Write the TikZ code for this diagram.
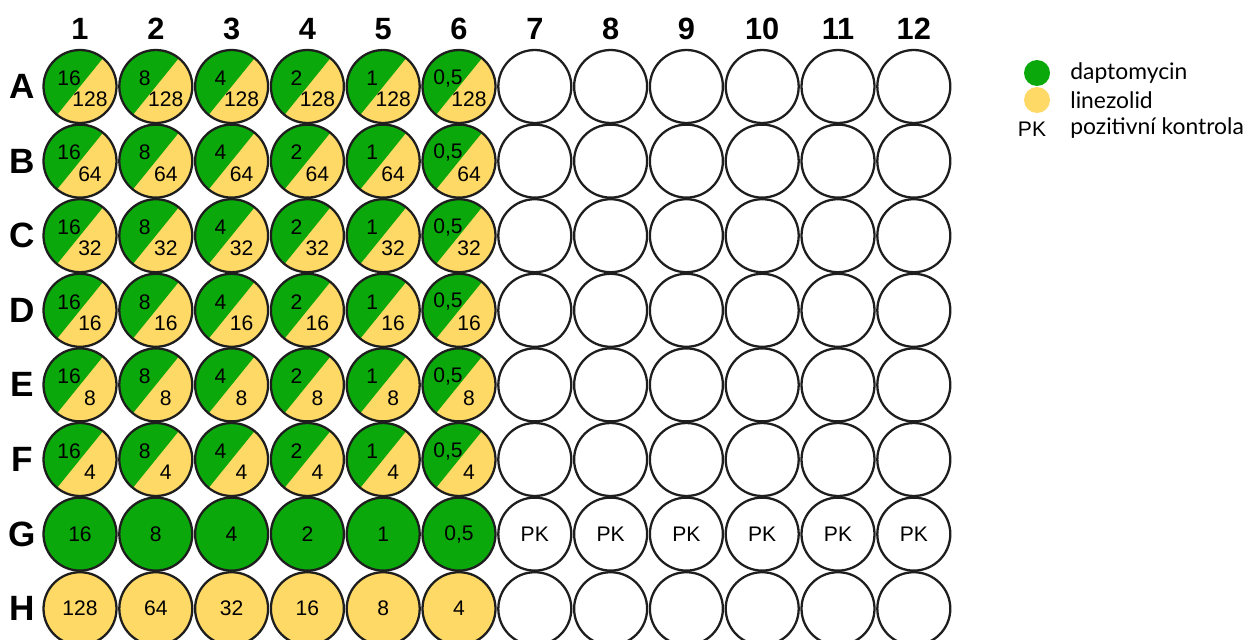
\documentclass[tikz,border=0pt]{standalone}
\usepackage{fontspec}
\setmainfont{Liberation Sans}
\newfontfamily\legendfont{Lato}
\usepackage{xcolor}
\usepackage{tikz}

\definecolor{dapto}{RGB}{10,168,10}
\definecolor{linez}{RGB}{255,217,102}
\definecolor{rim}{RGB}{30,30,30}

\tikzset{
    well/.style={circle, draw=rim, line width=1.3pt, minimum size=1.46cm, inner sep=0pt},
    halfwell/.style={well, fill=linez,
        path picture={\fill[dapto] ($(path picture bounding box.center)+(51:1.2cm)$)
            -- ($(path picture bounding box.center)+(141:1.7cm)$)
            -- ($(path picture bounding box.center)+(231:1.2cm)$) -- cycle;}},
    dose/.style={inner sep=0pt, font=\fontsize{12}{14}\selectfont},
    colhead/.style={font=\fontsize{17.5}{20}\selectfont\bfseries},
    rowhead/.style={font=\fontsize{20}{22}\selectfont\bfseries},
    legtext/.style={anchor=west, inner sep=0pt, font=\legendfont\fontsize{13}{15}\selectfont}
}
\usetikzlibrary{calc}

\begin{document}
\begin{tikzpicture}[x=0.02cm, y=-0.02cm]

    \useasboundingbox (0,0) rectangle (1250,639);

    % Column numbers
    \foreach \c in {1,...,12}
    {
        \node[colhead] (col-\c) at (4.2+75.8*\c, 29) {\c};
    }

    % Row letters
    \foreach \r [count=\i] in {A,B,C,D,E,F,G,H}
    {
        \node[rowhead] (row-\r) at (22, 11.9+74.6*\i) {\r};
    }

    % Combination wells (rows A-F, columns 1-6)
    \foreach \r/\lin [count=\i] in {A/128, B/64, C/32, D/16, E/8, F/4}
    {
        \foreach \c/\dap in {1/16, 2/8, 3/4, 4/2, 5/1, 6/{0,5}}
        {
            \node[halfwell] (w-\r-\c) at (4.2+75.8*\c, 11.9+74.6*\i) {};
            \node[dose, xshift=-0.22cm, yshift=0.17cm] (d-\r-\c) at (w-\r-\c) {\dap};
            \node[dose, xshift=0.2cm, yshift=-0.26cm] (l-\r-\c) at (w-\r-\c) {\lin};
        }
        % empty wells
        \foreach \c in {7,...,12}
        {
            \node[well] (w-\r-\c) at (4.2+75.8*\c, 11.9+74.6*\i) {};
        }
    }

    % Daptomycin only (row G)
    \foreach \c/\dap in {1/16, 2/8, 3/4, 4/2, 5/1, 6/{0,5}}
    {
        \node[well, fill=dapto, font=\fontsize{12}{14}\selectfont] (w-G-\c) at (4.2+75.8*\c, 534.1) {\dap};
    }
    % positive controls
    \foreach \c in {7,...,12}
    {
        \node[well, font=\fontsize{12}{14}\selectfont] (w-G-\c) at (4.2+75.8*\c, 534.1) {PK};
    }

    % Linezolid only (row H)
    \foreach \c/\lin in {1/128, 2/64, 3/32, 4/16, 5/8, 6/4}
    {
        \node[well, fill=linez, font=\fontsize{12}{14}\selectfont] (w-H-\c) at (4.2+75.8*\c, 608.7) {\lin};
    }
    \foreach \c in {7,...,12}
    {
        \node[well] (w-H-\c) at (4.2+75.8*\c, 608.7) {};
    }

    % Legend
    \node[circle, fill=dapto, minimum size=0.52cm, inner sep=0pt] (key-dapto) at (1037,73) {};
    \node[circle, fill=linez, minimum size=0.52cm, inner sep=0pt] (key-linez) at (1037,100) {};
    \node[dose] (key-pk) at (1032,129) {PK};
    \node[legtext] (txt-dapto) at (1070,73) {daptomycin};
    \node[legtext] (txt-linez) at (1070,100) {linezolid};
    \node[legtext] (txt-pk) at (1070,128) {pozitivní kontrola};

\end{tikzpicture}
\end{document}
